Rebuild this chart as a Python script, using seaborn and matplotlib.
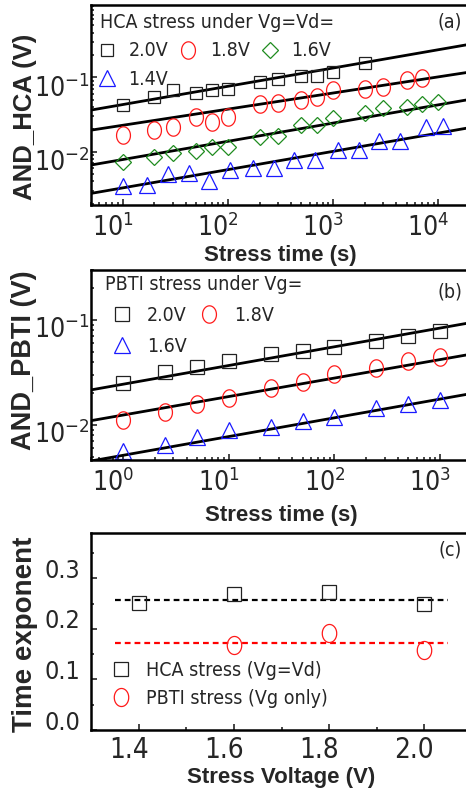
import numpy as np
import seaborn as sns
import matplotlib.pyplot as plt
from matplotlib import font_manager
from matplotlib.path import Path
from matplotlib.ticker import NullFormatter, MultipleLocator, LogLocator
from matplotlib.transforms import ScaledTranslation

# ---- data ----
# (a) HCA stress, Vg=Vd
hca_t = [10, 20, 30, 50, 70, 100, 200, 300, 500, 700, 1000, 2000, 3000, 5000, 7000, 10000]
hca_20 = [0.042, 0.055, 0.067, 0.062, 0.067, 0.069, 0.086, 0.094, 0.104, 0.104, 0.119, 0.154]
hca_18 = [0.0167, 0.0195, 0.0216, 0.029, 0.025, 0.0295, 0.0434, 0.0447, 0.0494, 0.0548,
          0.0675, 0.069, 0.0733, 0.092, 0.097]
hca_16 = [0.0073, 0.0085, 0.0095, 0.0103, 0.0116, 0.0116, 0.0156, 0.0162, 0.0228, 0.0228,
          0.028, 0.0328, 0.0383, 0.0395, 0.0437, 0.047]
hca_t14 = [10, 17, 27, 43, 66, 104, 174, 273, 427, 670, 1120, 1770, 2720, 4300, 7700, 11100]
hca_14 = [0.0035, 0.0036, 0.0050, 0.0051, 0.0041, 0.0057, 0.0060, 0.0060, 0.0077, 0.0078,
          0.0105, 0.0105, 0.0138, 0.0138, 0.0212, 0.0223]
# fitted power-law lines, ends of the lines at t = 5 s and 2e4 s
hca_fit_t = [5, 20000]
hca_fit = {"2.0V": [0.0363, 0.279], "1.8V": [0.0195, 0.118],
           "1.6V": [0.00662, 0.0506], "1.4V": [0.00275, 0.0211]}

# (b) PBTI stress, Vg only
pbti_t = [1, 2.5, 5, 10, 25, 50, 100, 250, 500, 1000]
pbti_20 = [0.0249, 0.0322, 0.0359, 0.0407, 0.0475, 0.0507, 0.0557, 0.063, 0.071, 0.0786]
pbti_18 = [0.0112, 0.0134, 0.0158, 0.0182, 0.0223, 0.0258, 0.0306, 0.0347, 0.0407, 0.0441]
pbti_16 = [0.0056, 0.0065, 0.0077, 0.0090, 0.0096, 0.0110, 0.0120, 0.0144, 0.0158, 0.0173]
pbti_fit_t = [0.5, 2000]
pbti_fit = {"2.0V": [0.0216, 0.095], "1.8V": [0.0110, 0.0475], "1.6V": [0.00454, 0.020]}

# (c) time exponents
hca_v = [1.4, 1.6, 1.8, 2.0]
hca_n = [0.251, 0.268, 0.272, 0.249]
pbti_v = [1.6, 1.8, 2.0]
pbti_n = [0.168, 0.191, 0.158]
mean_v = [1.35, 2.05]
hca_mean = 0.257
pbti_mean = 0.171

# ---- style ----
sns.set_style("ticks")

# a narrow sans face if one is installed, else plain Liberation Sans
narrow = None
for f in font_manager.fontManager.ttflist:
    if f.style != "normal" or f.weight not in (400, "normal", "regular"):
        continue
    if "Narrow" in f.name or "Condensed" in f.name or f.stretch in ("condensed", "semi-condensed"):
        if any(k in f.name for k in ("Liberation", "Arial", "Roboto", "Noto Sans", "Open Sans", "DejaVu Sans", "Lato")):
            narrow = f
            break
if narrow is not None:
    plt.rcParams["font.family"] = [narrow.name, "DejaVu Sans"]
    plt.rcParams["font.stretch"] = narrow.stretch
    TICK, TICK_C, LEG = 19, 18, 14
else:
    plt.rcParams["font.family"] = ["Liberation Sans", "DejaVu Sans"]
    TICK, TICK_C, LEG = 17, 16, 12.5
plt.rcParams["axes.unicode_minus"] = False
plt.rcParams["axes.linewidth"] = 1.8
plt.rcParams["axes.edgecolor"] = "black"

BLACK, RED, GREEN, BLUE = "#222222", "#ff1a1a", "#1f8c1f", "#1a1aff"
LBL = dict(fontfamily="Liberation Sans", fontweight="bold", fontstretch="normal")

# slightly tall ellipse marker, like the picture's circles
th = np.linspace(0, 2 * np.pi, 60)
ellipse = Path(np.column_stack([0.8 * np.cos(th), np.sin(th)]))

W, H = 466, 797
fig = plt.figure(figsize=(W / 100, H / 100), dpi=100)


def add_ax(left, top, right, bottom):
    return fig.add_axes([left / W, 1 - bottom / H, (right - left) / W, (bottom - top) / H])


ax_a = add_ax(91, 5, 470, 205)
ax_b = add_ax(91, 270, 472, 460)
ax_c = add_ax(91, 532.7, 472, 730)


def pts(ax, x, y, marker, color, ms, label):
    sns.lineplot(x=x, y=y, ax=ax, marker=marker, markersize=ms, mfc="none", mec=color,
                 mew=0.9, linestyle="", label=label)


def fit(ax, x, y):
    sns.lineplot(x=x, y=y, ax=ax, color="black", lw=2.0)


# ---- (a) ----
ax_a.set_xscale("log")
ax_a.set_yscale("log")
for k in hca_fit:
    fit(ax_a, hca_fit_t, hca_fit[k])
pts(ax_a, hca_t[:len(hca_20)], hca_20, "s", BLACK, 8.8, "2.0V")
pts(ax_a, hca_t[:len(hca_18)], hca_18, ellipse, RED, 12.5, "1.8V")
pts(ax_a, hca_t, hca_16, "D", GREEN, 8.0, "1.6V")
pts(ax_a, hca_t14, hca_14, "^", BLUE, 11.5, "1.4V")
ax_a.set_xlim(5, 2e4)
ax_a.set_ylim(0.00192, 0.94)
ax_a.set_xticks([1e1, 1e2, 1e3, 1e4])
ax_a.set_yticks([1e-2, 1e-1])

h, l = ax_a.get_legend_handles_labels()
order = [0, 3, 1, 2]
ax_a.legend([h[i] for i in order], [l[i] for i in order], title="HCA stress under Vg=Vd=",
            alignment="left", ncol=3, loc="upper left", bbox_to_anchor=(0.024, 0.962),
            frameon=False, borderpad=0, borderaxespad=0, handlelength=0.7,
            handletextpad=0.75, columnspacing=0.7, labelspacing=0.5,
            fontsize=LEG, title_fontsize=LEG)
ax_a.text(0.979, 0.915, "(a)", transform=ax_a.transAxes, ha="right", va="center", fontsize=LEG)
ax_a.set_xlabel("Stress time (s)", fontsize=16, **LBL)
ax_a.set_ylabel("AND_HCA (V)", fontsize=18.5, **LBL)
ax_a.xaxis.set_label_coords(0.5, -0.2)
ax_a.yaxis.set_label_coords(-0.142, 0.44)

# ---- (b) ----
ax_b.set_xscale("log")
ax_b.set_yscale("log")
for k in pbti_fit:
    fit(ax_b, pbti_fit_t, pbti_fit[k])
pts(ax_b, pbti_t, pbti_20, "s", BLACK, 10, "2.0V")
pts(ax_b, pbti_t, pbti_18, ellipse, RED, 12.5, "1.8V")
pts(ax_b, pbti_t, pbti_16, "^", BLUE, 11.5, "1.6V")
ax_b.set_xlim(0.5, 2000)
ax_b.set_ylim(0.00464, 0.30)
ax_b.set_xticks([1e0, 1e1, 1e2, 1e3])
ax_b.set_yticks([1e-2, 1e-1])

h, l = ax_b.get_legend_handles_labels()
order = [0, 2, 1]
ax_b.legend([h[i] for i in order], [l[i] for i in order], title="PBTI stress under Vg=",
            alignment="left", ncol=2, loc="upper left", bbox_to_anchor=(0.037, 0.972),
            frameon=False, borderpad=0, borderaxespad=0, handlelength=1.7,
            handletextpad=0.45, columnspacing=0.3, labelspacing=0.6,
            fontsize=LEG, title_fontsize=LEG)
ax_b.text(0.974, 0.884, "(b)", transform=ax_b.transAxes, ha="right", va="center", fontsize=LEG)
ax_b.set_xlabel("Stress time (s)", fontsize=16, **LBL)
ax_b.set_ylabel("AND_PBTI (V)", fontsize=19.5, **LBL)
ax_b.xaxis.set_label_coords(0.5, -0.235)
ax_b.yaxis.set_label_coords(-0.142, 0.526)

for ax in (ax_a, ax_b):
    ax.xaxis.set_minor_locator(LogLocator(base=10, subs=np.arange(2, 10)))
    ax.yaxis.set_minor_locator(LogLocator(base=10, subs=np.arange(2, 10)))
    ax.xaxis.set_minor_formatter(NullFormatter())
    ax.yaxis.set_minor_formatter(NullFormatter())

# ---- (c) ----
sns.lineplot(x=mean_v, y=[hca_mean] * 2, ax=ax_c, color="black", lw=1.6, linestyle=(0, (2.6, 1.8)))
sns.lineplot(x=mean_v, y=[pbti_mean] * 2, ax=ax_c, color="#ff0000", lw=1.6, linestyle=(0, (2.6, 1.8)))
pts(ax_c, hca_v, hca_n, "s", BLACK, 10, "HCA stress (Vg=Vd)")
pts(ax_c, pbti_v, pbti_n, ellipse, RED, 13, "PBTI stress (Vg only)")
ax_c.set_xlim(1.3, 2.1)
ax_c.set_ylim(0, 0.39)
ax_c.set_xticks([1.4, 1.6, 1.8, 2.0])
ax_c.set_xticks([1.5, 1.7, 1.9], minor=True)
ax_c.yaxis.set_minor_locator(MultipleLocator(0.05))
ax_c.set_yticks([0.0, 0.1, 0.2, 0.3])
ax_c.yaxis.set_major_formatter(plt.FormatStrFormatter("%.1f"))
ax_c.legend(loc="upper left", bbox_to_anchor=(0.053, 0.35), frameon=False, borderpad=0,
            borderaxespad=0, handlelength=1.0, handletextpad=0.8, labelspacing=0.45,
            fontsize=LEG)
ax_c.text(0.974, 0.912, "(c)", transform=ax_c.transAxes, ha="right", va="center", fontsize=LEG)
ax_c.set_xlabel("Stress Voltage (V)", fontsize=16, **LBL)
ax_c.set_ylabel("Time exponent", fontsize=20, **LBL)
ax_c.xaxis.set_label_coords(0.5, -0.19)
ax_c.yaxis.set_label_coords(-0.14, 0.485)

for ax in (ax_a, ax_b, ax_c):
    ax.tick_params(which="both", direction="in", top=False, right=False, width=1.2)
    ax.tick_params(which="major", length=4, labelsize=TICK)
    ax.tick_params(which="minor", length=2.5)
    ax.tick_params(axis="x", which="major", pad=6)
    ax.tick_params(axis="y", which="major", pad=1)
ax_c.tick_params(axis="y", which="major", pad=8, labelsize=TICK_C)
ax_c.tick_params(axis="x", which="major", pad=4, labelsize=TICK + 1)

# the tick labels of the picture sit a little off their ticks
fig.canvas.draw()


def shift(ticks, dx, dy):
    off = ScaledTranslation(dx / 100, dy / 100, fig.dpi_scale_trans)
    for t in ticks:
        t.label1.set_transform(t.label1.get_transform() + off)


for ax in (ax_a, ax_b, ax_c):
    shift(ax.xaxis.get_major_ticks(), -10, 0)
shift(ax_a.yaxis.get_major_ticks(), 0, -8)
shift(ax_b.yaxis.get_major_ticks(), 0, -7)
shift(ax_c.yaxis.get_major_ticks(), 0, 10)

fig.savefig("out.png", dpi=100)
